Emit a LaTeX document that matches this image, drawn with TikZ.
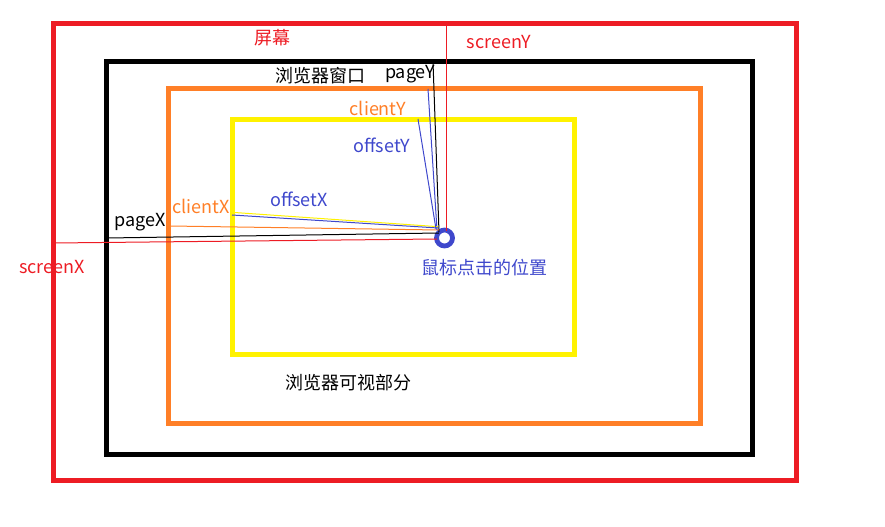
\documentclass[tikz,border=0pt]{standalone}
\usepackage{fontspec}
\setmainfont{Noto Sans CJK SC}
\definecolor{pred}{HTML}{ED1C24}
\definecolor{porange}{HTML}{FF7F27}
\definecolor{pyellow}{HTML}{FFF200}
\definecolor{pblue}{HTML}{3F48CC}
\begin{document}
\begin{tikzpicture}[x=0.75pt,y=-0.75pt,
  frame/.style={line width=3.75pt},
  lbl/.style={inner sep=0pt,font=\fontsize{13.5pt}{16pt}\selectfont},
  thin/.style={line width=0.75pt}]
\useasboundingbox (0,0) rectangle (885,527);
% frames
\draw[frame,pred] (53.5,23.5) rectangle (796.5,480);
\draw[frame,black] (106.5,61.5) rectangle (752.5,454);
\draw[frame,porange] (168,88.5) rectangle (700.5,423);
\draw[frame,pyellow] (232.5,119.5) rectangle (574.5,354.5);
% click point
\node[circle,draw=pblue,line width=3.6pt,minimum size=12pt,inner sep=0pt] (click) at (444.5,238) {};
% coordinates
\coordinate (sxL) at (54,243);
\coordinate (sxR) at (437,239);
\coordinate (syT) at (446,24);
\coordinate (syB) at (446,231);
\coordinate (pxL) at (107,238);
\coordinate (pxR) at (439,233);
\coordinate (pyT) at (433,62);
\coordinate (pyB) at (439,232);
\coordinate (cxL) at (170,226);
\coordinate (cxR) at (439,230);
\coordinate (cyT) at (428,89);
\coordinate (cyB) at (437,230);
\coordinate (oxL) at (232,215);
\coordinate (oxR) at (438,228);
\coordinate (oyT) at (418,119);
\coordinate (oyB) at (436,229);
% connectors
\draw[thin,pred] (sxL) -- (sxR);
\draw[thin,pred] (syT) -- (syB);
\draw[thin,black] (pxL) -- (pxR);
\draw[thin,black] (pyT) -- (pyB);
\draw[thin,porange] (cxL) -- (cxR);
\draw[thin,pblue] (cyT) -- (cyB);
\draw[thin,pyellow] ([yshift=2]oxL) -- ([yshift=1]oxR);
\draw[thin,pblue] (oxL) -- (oxR);
\draw[thin,pblue] (oyT) -- (oyB);
% labels
\node[lbl,text=pred] (tscreen) at (272,38) {屏幕};
\node[lbl,text=pred] (tscreenY) at (499,42) {screenY};
\node[lbl] (twin) at (320,76) {浏览器窗口};
\node[lbl] (tpageY) at (410,74) {pageY};
\node[lbl,text=porange] (tclientY) at (378,108) {clientY};
\node[lbl,text=pblue] (toffsetY) at (382,145) {offsetY};
\node[lbl,text=pblue] (toffsetX) at (299,199) {offsetX};
\node[lbl,text=porange] (tclientX) at (201,206) {clientX};
\node[lbl] (tpageX) at (140,222) {pageX};
\node[lbl,text=pred] (tscreenX) at (52,267) {screenX};
\node[lbl,text=pblue] (tclick) at (484,268) {鼠标点击的位置};
\node[lbl] (tview) at (348,383) {浏览器可视部分};
\end{tikzpicture}
\end{document}
